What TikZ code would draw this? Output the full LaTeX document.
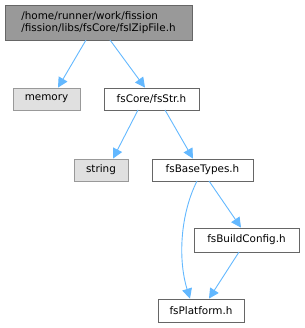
\documentclass[tikz,border=0pt]{standalone}
\usepackage{fontspec}
\setmainfont{DejaVu Sans}
\usetikzlibrary{arrows.meta}
\definecolor{edgeblue}{HTML}{63B8FF}
\tikzset{
  box/.style={draw=black!60, fill=white, line width=0.9pt, inner sep=0pt, font=\fontsize{10.4}{12.5}\selectfont},
  sysbox/.style={box, draw=black!40, fill=black!12},
  topbox/.style={box, draw=black!60, fill=black!40},
  dep/.style={draw=edgeblue, line width=0.9pt, -{Stealth[length=10pt,width=10pt,inset=0pt]}},
}
\begin{document}
\begin{tikzpicture}[x=1pt,y=-1pt]
\useasboundingbox (0,0) rectangle (304,328);
\node[topbox, minimum width=187pt, minimum height=35pt, align=left] (top) at (98.5,22.5) {/home/runner/work/fission\\/fission/libs/fsCore/fsIZipFile.h};
\node[sysbox, minimum width=67pt, minimum height=22pt] (mem) at (46.5,99) {memory};
\node[box, minimum width=95pt, minimum height=22pt] (str) at (151.5,99) {fsCore/fsStr.h};
\node[sysbox, minimum width=54pt, minimum height=22pt] (string) at (101,170) {string};
\node[box, minimum width=101pt, minimum height=22pt] (base) at (202.5,170) {fsBaseTypes.h};
\node[box, minimum width=105pt, minimum height=24pt] (build) at (246.5,240) {fsBuildConfig.h};
\node[box, minimum width=86pt, minimum height=23pt] (plat) at (201,310.5) {fsPlatform.h};
\draw[dep] (86,40) -- (58,87.6);
\draw[dep] (110,40) -- (145,87.6);
\draw[dep] (138,110) -- (113,158.6);
\draw[dep] (165,110) -- (193,158.6);
\draw[dep] (197,181) .. controls (180,215) and (178,260) .. (190,298.6);
\draw[dep] (209,181) -- (241,227.6);
\draw[dep] (239,252) -- (209,298.6);
\end{tikzpicture}
\end{document}
